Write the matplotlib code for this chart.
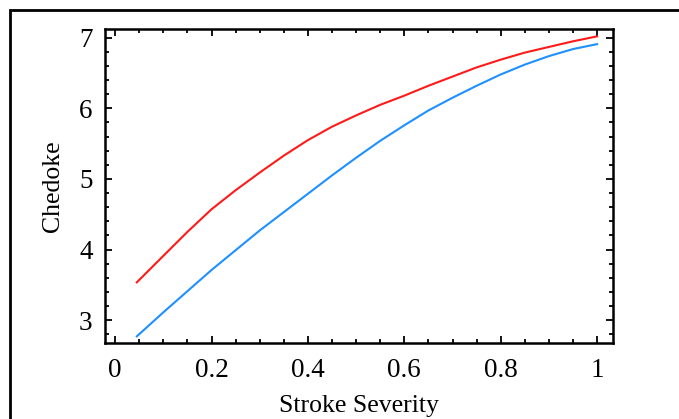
import matplotlib
matplotlib.use("Agg")
import matplotlib.pyplot as plt
from matplotlib.patches import Rectangle
from matplotlib.ticker import MultipleLocator

plt.rcParams['font.family'] = ['Liberation Serif', 'DejaVu Serif']

# values
severity = [0.045, 0.1, 0.15, 0.2, 0.25, 0.3, 0.35, 0.4, 0.45, 0.5,
            0.55, 0.6, 0.65, 0.7, 0.75, 0.8, 0.85, 0.9, 0.95, 1.0]
chedoke_red = [3.535, 3.91, 4.25, 4.57, 4.84, 5.09, 5.33, 5.55, 5.74, 5.90,
               6.05, 6.18, 6.32, 6.45, 6.58, 6.69, 6.79, 6.87, 6.95, 7.02]
chedoke_blue = [2.77, 3.11, 3.41, 3.71, 3.99, 4.27, 4.53, 4.79, 5.05, 5.30,
                5.54, 5.76, 5.97, 6.15, 6.32, 6.48, 6.62, 6.74, 6.84, 6.91]

xticks = [0, 0.2, 0.4, 0.6, 0.8, 1]
xticklabels = ['0', '0.2', '0.4', '0.6', '0.8', '1']
yticks = [3, 4, 5, 6, 7]

fig = plt.figure(figsize=(6.79, 4.19), dpi=100)
ax = fig.add_axes([105 / 679, 1 - 342.7 / 419, (613 - 105) / 679, (342.7 - 29.3) / 419])

ax.plot(severity, chedoke_red, color='#ff1a1a', lw=1.5)
ax.plot(severity, chedoke_blue, color='#1e90ff', lw=1.5)

ax.set_xlim(-0.021, 1.033)
ax.set_ylim(2.68, 7.12)
ax.set_xticks(xticks)
ax.set_xticklabels(xticklabels)
ax.set_yticks(yticks)
ax.xaxis.set_minor_locator(MultipleLocator(0.05))
ax.yaxis.set_minor_locator(MultipleLocator(0.2))
ax.tick_params(which='both', direction='in', top=True, right=True, width=1.3, labelsize=19.5)
ax.tick_params(axis='x', pad=11)
ax.tick_params(axis='y', pad=9)
ax.tick_params(which='major', length=5)
ax.tick_params(which='minor', length=3)
for s in ax.spines.values():
  s.set_linewidth(1.8)

ax.set_xlabel('Stroke Severity', fontsize=18.5, labelpad=9)
ax.set_ylabel('Chedoke', fontsize=18.5, labelpad=11)

# outer frame, cut off at the right and bottom
fig.patches.append(Rectangle((10 / 679, -0.2), 1.2, 1.2 - 10 / 419, transform=fig.transFigure,
                             fill=False, lw=2, ec='black', clip_on=False))

fig.savefig('out.png', dpi=100)
